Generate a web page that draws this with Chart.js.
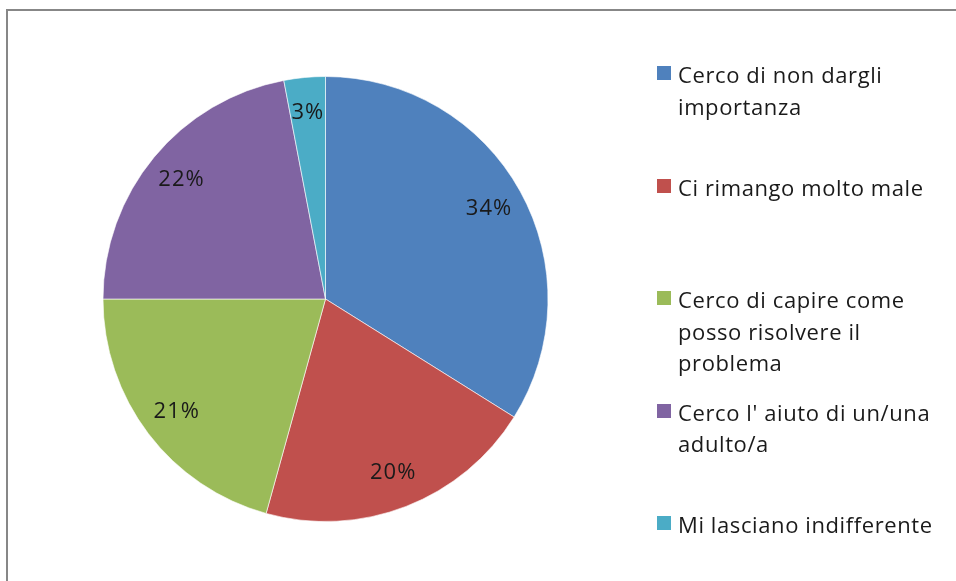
<!DOCTYPE html>
<html>
<head>
<meta charset="utf-8">
<script src="https://cdn.jsdelivr.net/npm/chart.js@4/dist/chart.umd.min.js"></script>
<style>
    html, body { margin: 0; padding: 0; background: #fff; overflow: hidden; }
    #wrap { position: relative; width: 956px; height: 581px; overflow: hidden; }
    #frame { position: absolute; left: 6px; top: 9px; width: 1000px; height: 700px;
             border-top: 2px solid #878787; border-left: 2px solid #878787; }
    #myChart { position: absolute; left: 0; top: 0; }
    #legend { position: absolute; left: 0; top: 0; font-family: "Open Sans", sans-serif;
              font-size: 22px; letter-spacing: 0.6px; color: #1a1a1a; }
    .item { position: absolute; left: 657px; line-height: 31.5px; white-space: nowrap; }
    .box { position: absolute; left: 0; top: 7px; width: 14px; height: 14px; }
    .txt { position: absolute; left: 21px; top: 0; }
</style>
</head>
<body>
<div id="wrap">
    <div id="frame"></div>
    <canvas id="myChart" width="956" height="581"></canvas>
    <div id="legend"></div>
</div>
<script>
var categories = [
    ['Cerco di non dargli', 'importanza'],
    ['Ci rimango molto male'],
    ['Cerco di capire come', 'posso risolvere il', 'problema'],
    ["Cerco l' aiuto di un/una", 'adulto/a'],
    ['Mi lasciano indifferente']
];
var values = [33.9, 20.4, 20.7, 22.0, 3.0];
var colors = ['#4F81BD', '#C0504D', '#9BBB59', '#8064A2', '#4BACC6'];

// percentage labels drawn inside the slices
var percentLabels = {
    id: 'percentLabels',
    afterDatasetsDraw(chart) {
        var ctx = chart.ctx;
        var meta = chart.getDatasetMeta(0);
        var total = values.reduce((a, b) => a + b, 0);
        ctx.save();
        ctx.font = '22px "Open Sans", sans-serif';
        ctx.letterSpacing = '1px';
        ctx.fillStyle = '#1a1a1a';
        ctx.textAlign = 'center';
        ctx.textBaseline = 'middle';
        meta.data.forEach(function (arc, i) {
            var p = arc.getProps(['x', 'y', 'startAngle', 'endAngle', 'outerRadius'], true);
            var mid = (p.startAngle + p.endAngle) / 2;
            var r = p.outerRadius * 0.84;
            var pct = Math.round(values[i] / total * 100) + '%';
            ctx.fillText(pct, p.x + Math.cos(mid) * r, p.y + Math.sin(mid) * r);
        });
        ctx.restore();
    }
};

var ctx = document.getElementById('myChart').getContext('2d');
var chart = new Chart(ctx, {
    type: 'pie',
    data: {
        labels: categories,
        datasets: [{
            data: values,
            backgroundColor: colors,
            borderColor: 'rgba(255,255,255,0.6)',
            borderWidth: 1
        }]
    },
    options: {
        responsive: false,
        animation: false,
        layout: { padding: { left: 102.5, top: 76, right: 407.5, bottom: 59 } },
        plugins: {
            legend: { display: false },
            tooltip: { enabled: false }
        }
    },
    plugins: [percentLabels]
});

// legend on the right
var legend = document.getElementById('legend');
categories.forEach(function (lines, i) {
    var item = document.createElement('div');
    item.className = 'item';
    item.style.top = (59 + i * 112.5) + 'px';
    var box = document.createElement('div');
    box.className = 'box';
    box.style.background = colors[i];
    var txt = document.createElement('div');
    txt.className = 'txt';
    txt.innerHTML = lines.join('<br>');
    item.appendChild(box);
    item.appendChild(txt);
    legend.appendChild(item);
});
</script>
</body>
</html>
